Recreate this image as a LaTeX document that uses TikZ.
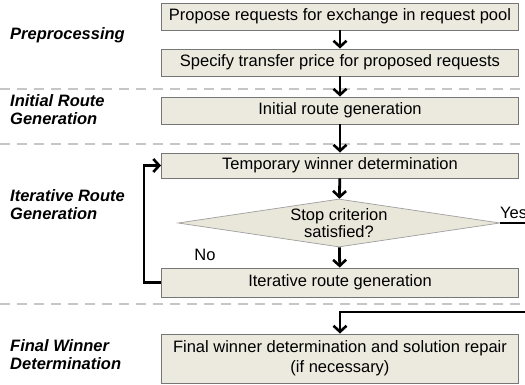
\documentclass[tikz,border=0pt]{standalone}
\usepackage{fontspec}
\setmainfont{Liberation Sans}
\usetikzlibrary{shapes.geometric,arrows.meta}

\definecolor{boxfill}{HTML}{ECE9DF}
\definecolor{boxline}{HTML}{767676}
\definecolor{diafill}{HTML}{E9E6DA}
\definecolor{sepline}{HTML}{C6C6C6}

\tikzset{
  stepbox/.style={draw=boxline, fill=boxfill, line width=0.9pt,
    minimum width=357pt, inner sep=0pt, align=center,
    font=\fontsize{16.5}{20}\selectfont},
  decision/.style={diamond, draw=boxline!70, fill=diafill, line width=0.7pt,
    minimum width=322pt, minimum height=48pt, inner sep=0pt, aspect=6.7,
    align=center, font=\fontsize{16.5}{17.5}\selectfont},
  phase/.style={anchor=west, align=left, inner sep=0pt,
    font=\fontsize{16.5}{18}\selectfont\bfseries\itshape},
  flow/.style={line width=2.8pt, -{Straight Barb[length=6pt,width=13pt,line width=2.6pt]}},
  separator/.style={draw=sepline, line width=2pt, dash pattern=on 10pt off 7pt},
  note/.style={font=\fontsize{16.5}{18}\selectfont, inner sep=0pt}
}

\begin{document}
\begin{tikzpicture}[x=1pt, y=-1pt]
  \clip (0,0) rectangle (525,385);
  \useasboundingbox (0,0) rectangle (525,385);

  % phase separators
  \draw[separator] (0,89) -- (525,89);
  \draw[separator] (0,144) -- (525,144);
  \draw[separator] (0,304) -- (525,304);

  % phase labels
  \node[phase] (lpre)  at (10,35)  {Preprocessing};
  \node[phase] (linit) at (10,110) {Initial Route\\Generation};
  \node[phase] (liter) at (10,205) {Iterative Route\\Generation};
  \node[phase] (lfin)  at (10,355) {Final Winner\\Determination};

  % process steps
  \node[stepbox, minimum height=27pt] (propose) at (340,16.5) {Propose requests for exchange in request pool};
  \node[stepbox, minimum height=27pt] (price)   at (340,62.5) {Specify transfer price for proposed requests};
  \node[stepbox, minimum height=27pt] (init)    at (340,110.5) {Initial route generation};
  \node[stepbox, minimum height=25pt] (temp)    at (340,165.5) {Temporary winner determination};
  \node[decision] (stop) at (339,223) {Stop criterion\\satisfied?};
  \node[stepbox, minimum height=29pt] (iter)    at (340,282.5) {Iterative route generation};
  \node[stepbox, minimum height=49pt] (final)   at (340,358.5) {Final winner determination and solution repair\\(if necessary)};

  % outer turning point of the "Yes" branch
  \coordinate (yesa) at (540,223);
  \coordinate (yesb) at (540,312);

  % connectors
  \draw[flow] (propose) -- (price);
  \draw[flow] (price) -- (init);
  \draw[flow] (init) -- (temp);
  \draw[flow] (temp) -- (stop);
  \draw[flow] (stop) -- (iter);
  \draw[flow] (iter.west) -- ++(-17,0) |- (temp.west);
  \draw[flow] (stop.east) -- (yesa) -- (yesb) -| (final.north);

  % branch labels
  \node[note, anchor=south west] (yes) at (500,219) {Yes};
  \node[note] (no) at (205,255) {No};
\end{tikzpicture}
\end{document}
